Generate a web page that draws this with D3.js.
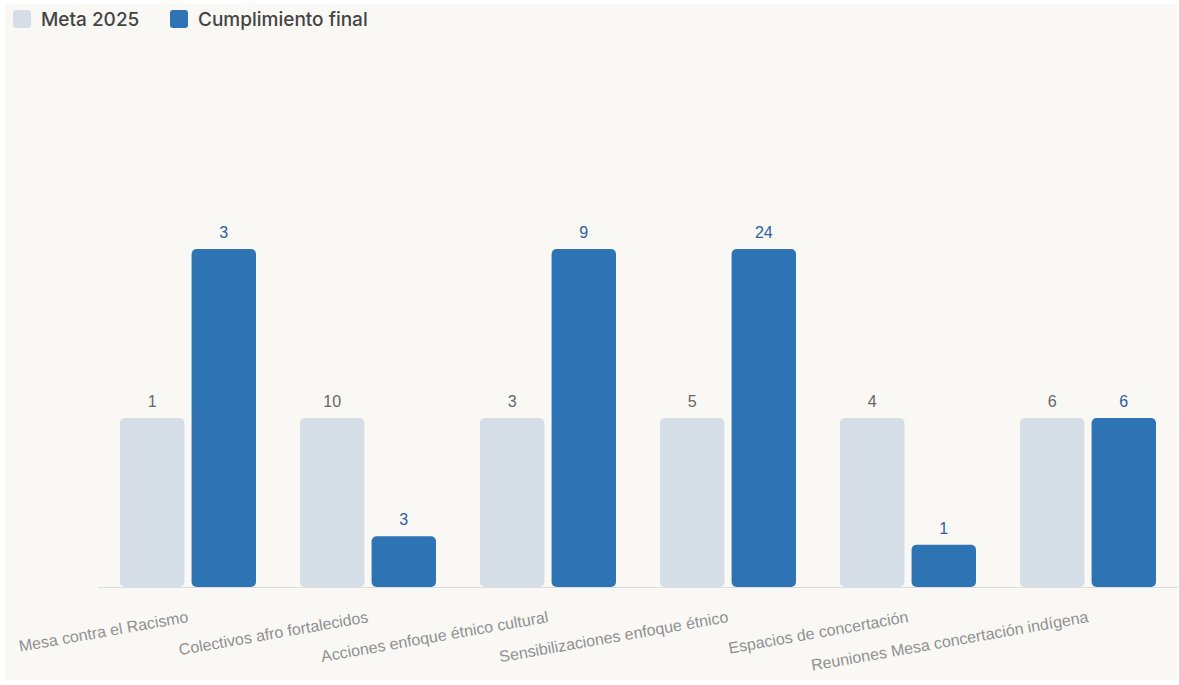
<!DOCTYPE html>
<html>
<head>
<meta charset="utf-8">
<script src="https://cdn.jsdelivr.net/npm/d3@7"></script>
<style>
  html, body { margin: 0; padding: 0; background: #ffffff; }
  svg { display: block; }
</style>
</head>
<body>
<script>
// categories and raw values
var categories = ["Mesa contra el Racismo", "Colectivos afro fortalecidos", "Acciones enfoque étnico cultural",
                  "Sensibilizaciones enfoque étnico", "Espacios de concertación", "Reuniones Mesa concertación indígena"];
var meta = [1, 10, 3, 5, 4, 6];
var cumplimiento = [3, 3, 9, 24, 1, 6];
var seriesNames = ["Meta 2025", "Cumplimiento final"];
var colors = ["#d5dde6", "#2e74b5"];
var labelColors = ["#666666", "#2e5f99"];

var w = 1179, h = 685;
var baseline = 587;

// bars are drawn as % of the goal (meta = 100%), capped at 200%
var rows = categories.map(function(c, i) {
  return {
    cat: c,
    vals: [
      {k: 0, raw: meta[i], pct: 100},
      {k: 1, raw: cumplimiento[i], pct: Math.min(cumplimiento[i] / meta[i] * 100, 200)}
    ]
  };
});

var svg = d3.select("body").append("svg").attr("width", w).attr("height", h);

svg.append("rect")
   .attr("x", 5).attr("y", 4)
   .attr("width", 1172).attr("height", 676)
   .attr("fill", "#f9f8f5");

var x0 = d3.scaleBand().domain(categories).range([98, 1178]).paddingInner(0).paddingOuter(0);
var x1 = d3.scaleBand().domain([0, 1]).range([22, 158]).paddingInner(0.1);
var y = d3.scaleLinear().domain([0, 200]).range([baseline, 249]);

// baseline
svg.append("line")
   .attr("x1", 98).attr("x2", 1178)
   .attr("y1", baseline + 0.5).attr("y2", baseline + 0.5)
   .attr("stroke", "#dddddd").attr("stroke-width", 1);

var g = svg.selectAll("g.grp")
   .data(rows)
   .enter()
   .append("g")
   .attr("class", "grp")
   .attr("transform", function(d) { return "translate(" + x0(d.cat) + ",0)"; });

g.selectAll("rect")
   .data(function(d) { return d.vals; })
   .enter()
   .append("rect")
   .attr("x", function(d) { return x1(d.k); })
   .attr("y", function(d) { return y(d.pct); })
   .attr("width", x1.bandwidth())
   .attr("height", function(d) { return baseline - y(d.pct); })
   .attr("rx", 5)
   .attr("fill", function(d) { return colors[d.k]; });

g.selectAll("text.val")
   .data(function(d) { return d.vals; })
   .enter()
   .append("text")
   .attr("class", "val")
   .attr("x", function(d) { return x1(d.k) + x1.bandwidth() / 2; })
   .attr("y", function(d) { return y(d.pct) - 11; })
   .attr("text-anchor", "middle")
   .attr("font-family", "Liberation Sans, Arial, sans-serif")
   .attr("font-size", "16px")
   .attr("fill", function(d) { return labelColors[d.k]; })
   .text(function(d) { return d.raw; });

// rotated category labels
svg.selectAll("text.cat")
   .data(categories)
   .enter()
   .append("text")
   .attr("class", "cat")
   .attr("transform", function(d) {
      return "translate(" + (x0(d) + x0.bandwidth() / 2 + 1) + "," + 622 + ") rotate(-10)";
   })
   .attr("text-anchor", "end")
   .attr("font-family", "Liberation Sans, Arial, sans-serif")
   .attr("font-size", "16px")
   .attr("fill", "#909090")
   .text(function(d) { return d; });

// legend
var legX = [13, 170];
var leg = svg.selectAll("g.leg")
   .data(seriesNames)
   .enter()
   .append("g")
   .attr("class", "leg")
   .attr("transform", function(d, i) { return "translate(" + legX[i] + ",10)"; });

leg.append("rect")
   .attr("width", 18).attr("height", 18).attr("rx", 3)
   .attr("fill", function(d, i) { return colors[i]; });

leg.append("text")
   .attr("x", 28).attr("y", 16)
   .attr("font-family", "Inter, Roboto, sans-serif")
   .attr("font-size", "19px")
   .attr("font-weight", 500)
   .attr("fill", "#444444")
   .text(function(d) { return d; });
</script>
</body>
</html>
